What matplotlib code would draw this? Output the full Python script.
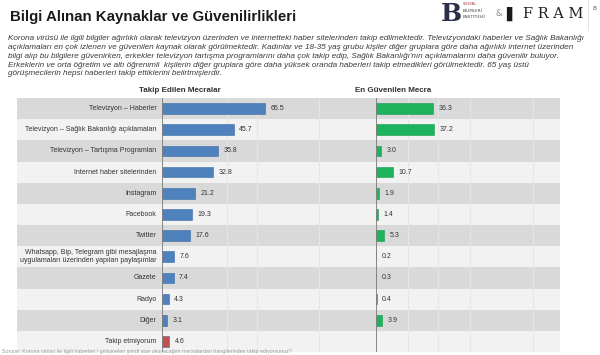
import numpy as np
import matplotlib
matplotlib.use("Agg")
import matplotlib.pyplot as plt

W, H = 600, 355

categories = [
    "Televizyon \u2013 Haberler",
    "Televizyon \u2013 Sağlık Bakanlığı açıklamaları",
    "Televizyon \u2013 Tartışma Programları",
    "Internet haber sitelerinden",
    "Instagram",
    "Facebook",
    "Twitter",
    "Whatsapp, Bip, Telegram gibi mesajlaşma\nuygulamaları üzerinden yapılan paylaşımlar",
    "Gazete",
    "Radyo",
    "Diğer",
    "Takip etmiyorum",
]
followed = [65.5, 45.7, 35.8, 32.8, 21.2, 19.3, 17.6, 7.6, 7.4, 4.3, 3.1, 4.6]
trusted = [36.3, 37.2, 3.0, 10.7, 1.9, 1.4, 5.3, 0.2, 0.3, 0.4, 3.9, np.nan]

title = "Bilgi Alınan Kaynaklar ve Güvenilirlikleri"
paragraph = [
    "Korona virüsü ile ilgili bilgiler ağırlıklı olarak televizyon üzerinden ve internetteki haber sitelerinden takip edilmektedir. Televizyondaki haberler ve Sağlık Bakanlığı",
    "açıklamaları en çok izlenen ve güvenilen kaynak olarak görülmektedir. Kadınlar ve 18-35 yaş grubu kişiler diğer gruplara göre daha ağırlıklı internet üzerinden",
    "bilgi alıp bu bilgilere güvenirken, erkekler televizyon tartışma programlarını daha çok takip edip, Sağlık Bakanlığı'nın açıklamalarını daha güvenilir buluyor.",
    "Erkeklerin ve orta öğretim ve altı öğrenimli  kişilerin diğer gruplara göre daha yüksek oranda haberleri takip etmedikleri görülmektedir. 65 yaş üstü",
    "görüşmecilerin hepsi haberleri takip ettiklerini belirtmişlerdir.",
]
footnote = ("Sorular: Korona virüsü ile ilgili haberleri / gelişmeleri şimdi size okuyacağım "
            "mecralardan hangilerinden takip ediyorsunuz?")

NARROW = ["Liberation Sans Narrow", "Liberation Sans", "DejaVu Sans"]


def fx(px):
    return px / W


def fy(py):
    return 1 - py / H


fig = plt.figure(figsize=(6, 3.55), dpi=100, facecolor="white")

# header
fig.text(fx(10), fy(17), title, fontsize=10.8, fontweight="bold", color="#1a1a1a",
         family=NARROW, va="center", ha="left")
for i, line in enumerate(paragraph):
    fig.text(fx(8), fy(39 + i * 8.7), line, fontsize=5.9, style="italic",
             color="#3a3a3a", family=NARROW, va="center", ha="left")

# logos
fig.text(fx(441), fy(14), "B", fontsize=18, fontweight="bold", color="#2b2f4a",
         family="DejaVu Serif", va="center", ha="left")
fig.text(fx(463), fy(4), "SOSYAL", fontsize=2.6, color="#a03030", va="center")
fig.text(fx(463), fy(10.5), "BİLİMLERİ", fontsize=3.0, color="#444", va="center")
fig.text(fx(463), fy(17), "ENSTİTÜSÜ", fontsize=3.0, color="#444", va="center")
fig.text(fx(495), fy(14), "&", fontsize=6, color="#888", va="center")
fig.text(fx(506), fy(14), "\u258c", fontsize=10, color="#1a1a1a", va="center")
fig.text(fx(523), fy(14), "F R A M", fontsize=10.5, color="#222", family="DejaVu Serif",
         va="center", ha="left")
fig.text(fx(593), fy(8), "8", fontsize=4.5, color="#555", va="center")
fig.add_artist(plt.Line2D([fx(588), fx(588)], [fy(0), fy(30)], color="#dddddd", lw=0.6))

# subtitles
fig.text(fx(180), fy(90), "Takip Edilen Mecralar", fontsize=5.8, fontweight="bold",
         color="#333", family=NARROW, ha="center", va="center")
fig.text(fx(393), fy(90), "En Güvenilen Mecra", fontsize=5.8, fontweight="bold",
         color="#333", family=NARROW, ha="center", va="center")

# background panel with striped rows
top, bot, left, right = 98, 352, 17, 560
n = len(categories)
bg = fig.add_axes([fx(left), fy(bot), fx(right - left), (bot - top) / H])
bg.set_xlim(left, right)
bg.set_ylim(n - 0.5, -0.5)
for i in range(n):
    bg.axhspan(i - 0.5, i + 0.5, color="#d9d9d9" if i % 2 == 0 else "#f2f2f2", lw=0)
for gx in [227, 257, 319, 408, 438, 470, 533]:
    bg.axvline(gx, color="#e6e6e6", lw=0.7)
bg.axis("off")

scale = 1.57  # px per percentage point
y = np.arange(n)

# left chart
axl = fig.add_axes([fx(162), fy(bot), fx(300 - 162), (bot - top) / H])
axl.patch.set_alpha(0)
axl.set_xlim(0, (300 - 162) / scale)
axl.set_ylim(n - 0.5, -0.5)
colors = ["#4f81bd"] * (n - 1) + ["#c0504d"]
axl.barh(y, followed, height=0.5, color=colors, edgecolor="#3a6aa3", lw=0.4)
for yi, v in zip(y, followed):
    axl.text(v + 3.5, yi, f"{v:.1f}", fontsize=5, color="#333", va="center", family=NARROW)
for yi, c in zip(y, categories):
    axl.text(-3.5, yi, c, fontsize=5, color="#333", va="center", ha="right",
             family=NARROW, linespacing=1.3)
axl.axvline(0, color="#7f7f7f", lw=1.3)
axl.axis("off")

# right chart
axr = fig.add_axes([fx(376), fy(bot), fx(560 - 376), (bot - top) / H])
axr.patch.set_alpha(0)
axr.set_xlim(0, (560 - 376) / scale)
axr.set_ylim(n - 0.5, -0.5)
axr.barh(y, trusted, height=0.5, color="#1db35c", edgecolor="#179a4e", lw=0.4)
for yi, v in zip(y, trusted):
    if not np.isnan(v):
        axr.text(v + 3.5, yi, f"{v:.1f}", fontsize=5, color="#333", va="center", family=NARROW)
axr.axvline(0, color="#7f7f7f", lw=1.3)
axr.axis("off")

fig.text(fx(2), fy(352), footnote, fontsize=3.8, color="#9a9a9a", family=NARROW,
         va="center", ha="left")

fig.savefig("out.png", dpi=100, facecolor="white")
